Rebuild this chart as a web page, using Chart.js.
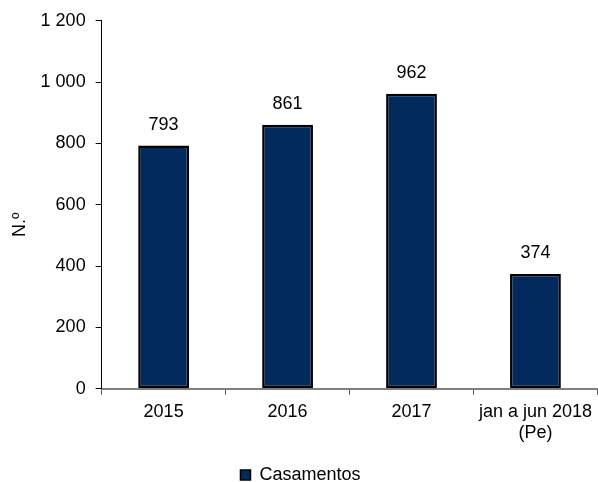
<!DOCTYPE html>
<html>
<head>
<meta charset="utf-8">
<script src="https://cdn.jsdelivr.net/npm/chart.js@4"></script>
<style>
  html, body { margin: 0; padding: 0; background: #ffffff; }
  #wrap { width: 598px; height: 482px; }
</style>
</head>
<body>
<div id="wrap"><canvas id="chart"></canvas></div>
<script>
// data
const categories = ["2015", "2016", "2017", ["jan a jun 2018", "(Pe)"]];
const casamentos = [793, 861, 962, 374];
const yTicks = [0, 200, 400, 600, 800, 1000, 1200];

// ------------------------------
// value labels above the bars
// ------------------------------
const barLabels = {
  id: "barLabels",
  afterDatasetsDraw(chart) {
    const ctx = chart.ctx;
    const meta = chart.getDatasetMeta(0);
    ctx.save();
    ctx.font = "18px 'Liberation Sans', Arial, sans-serif";
    ctx.fillStyle = "#000";
    ctx.textAlign = "center";
    ctx.textBaseline = "middle";
    meta.data.forEach((bar, i) => {
      ctx.fillText(String(casamentos[i]), bar.x, bar.y - 21);
    });
    ctx.restore();
  }
};

Chart.defaults.font.family = "'Liberation Sans', Arial, sans-serif";
Chart.defaults.font.size = 18;
Chart.defaults.color = "#000";

new Chart(document.getElementById("chart"), {
  type: "bar",
  data: {
    labels: categories,
    datasets: [{
      label: "Casamentos",
      data: casamentos,
      backgroundColor: "#032a5c",
      borderColor: "#000",
      borderWidth: 2.5,
      borderSkipped: false,
      categoryPercentage: 1,
      barPercentage: 0.41
    }]
  },
  options: {
    responsive: true,
    maintainAspectRatio: false,
    animation: false,
    layout: { padding: { top: 10, right: 0, left: 3, bottom: -12 } },
    plugins: {
      tooltip: { enabled: false },
      legend: {
        position: "bottom",
        labels: {
          boxWidth: 10,
          boxHeight: 10,
          padding: 4,
          color: "#000",
          font: { size: 18 },
          generateLabels(chart) {
            const items = Chart.defaults.plugins.legend.labels.generateLabels(chart);
            items.forEach(it => { it.lineWidth = 1.5; });
            return items;
          }
        }
      }
    },
    scales: {
      x: {
        // leave a gap between the category labels and the legend
        afterFit(axis) { axis.height += 12; },
        grid: { drawOnChartArea: false, drawTicks: true, tickLength: 6, color: "#555", offset: true },
        border: { color: "#808080", width: 2 },
        ticks: { color: "#000", padding: 6, maxRotation: 0, autoSkip: false }
      },
      y: {
        min: 0,
        max: 1200,
        afterBuildTicks(axis) { axis.ticks = yTicks.map(v => ({ value: v })); },
        grid: { drawOnChartArea: false, drawTicks: true, tickLength: 6, color: "#000" },
        border: { color: "#000", width: 1 },
        ticks: {
          color: "#000",
          padding: 10,
          callback: v => String(v).replace(/\B(?=(\d{3})+(?!\d))/g, " ")
        },
        title: {
          display: true,
          text: "N.º" + "\u00a0".repeat(8),
          color: "#000",
          font: { size: 18 },
          padding: { top: 6, bottom: 0 }
        }
      }
    }
  },
  plugins: [barLabels]
});
</script>
</body>
</html>
